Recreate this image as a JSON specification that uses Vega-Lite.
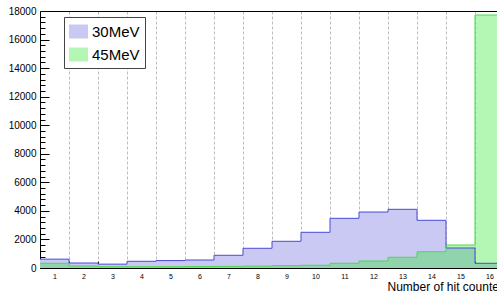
{
  "$schema": "https://vega.github.io/schema/vega-lite/v6.json",
  "width": 457,
  "height": 257,
  "autosize": {"type": "none"},
  "padding": {"left": 40, "top": 11, "right": 0, "bottom": 24},
  "background": "white",
  "config": {
    "view": {"stroke": null},
    "font": "Liberation Sans",
    "axis": {"labelFont": "Liberation Sans", "titleFont": "Liberation Sans"},
    "legend": {"labelFont": "Liberation Sans"}
  },
  "data": {
    "values": [
      {"bin_start": 0.5, "bin_end": 1.5, "energy": "30MeV", "count": 620},
      {"bin_start": 1.5, "bin_end": 2.5, "energy": "30MeV", "count": 350},
      {"bin_start": 2.5, "bin_end": 3.5, "energy": "30MeV", "count": 270},
      {"bin_start": 3.5, "bin_end": 4.5, "energy": "30MeV", "count": 470},
      {"bin_start": 4.5, "bin_end": 5.5, "energy": "30MeV", "count": 520},
      {"bin_start": 5.5, "bin_end": 6.5, "energy": "30MeV", "count": 560},
      {"bin_start": 6.5, "bin_end": 7.5, "energy": "30MeV", "count": 890},
      {"bin_start": 7.5, "bin_end": 8.5, "energy": "30MeV", "count": 1380},
      {"bin_start": 8.5, "bin_end": 9.5, "energy": "30MeV", "count": 1870},
      {"bin_start": 9.5, "bin_end": 10.5, "energy": "30MeV", "count": 2500},
      {"bin_start": 10.5, "bin_end": 11.5, "energy": "30MeV", "count": 3480},
      {"bin_start": 11.5, "bin_end": 12.5, "energy": "30MeV", "count": 3920},
      {"bin_start": 12.5, "bin_end": 13.5, "energy": "30MeV", "count": 4110},
      {"bin_start": 13.5, "bin_end": 14.5, "energy": "30MeV", "count": 3340},
      {"bin_start": 14.5, "bin_end": 15.5, "energy": "30MeV", "count": 1400},
      {"bin_start": 15.5, "bin_end": 16.5, "energy": "30MeV", "count": 330},
      {"bin_start": 0.5, "bin_end": 1.5, "energy": "45MeV", "count": 330},
      {"bin_start": 1.5, "bin_end": 2.5, "energy": "45MeV", "count": 140},
      {"bin_start": 2.5, "bin_end": 3.5, "energy": "45MeV", "count": 90},
      {"bin_start": 3.5, "bin_end": 4.5, "energy": "45MeV", "count": 90},
      {"bin_start": 4.5, "bin_end": 5.5, "energy": "45MeV", "count": 90},
      {"bin_start": 5.5, "bin_end": 6.5, "energy": "45MeV", "count": 100},
      {"bin_start": 6.5, "bin_end": 7.5, "energy": "45MeV", "count": 110},
      {"bin_start": 7.5, "bin_end": 8.5, "energy": "45MeV", "count": 130},
      {"bin_start": 8.5, "bin_end": 9.5, "energy": "45MeV", "count": 160},
      {"bin_start": 9.5, "bin_end": 10.5, "energy": "45MeV", "count": 190},
      {"bin_start": 10.5, "bin_end": 11.5, "energy": "45MeV", "count": 330},
      {"bin_start": 11.5, "bin_end": 12.5, "energy": "45MeV", "count": 490},
      {"bin_start": 12.5, "bin_end": 13.5, "energy": "45MeV", "count": 750},
      {"bin_start": 13.5, "bin_end": 14.5, "energy": "45MeV", "count": 1140},
      {"bin_start": 14.5, "bin_end": 15.5, "energy": "45MeV", "count": 1610},
      {"bin_start": 15.5, "bin_end": 16.5, "energy": "45MeV", "count": 17720}
    ]
  },
  "layer": [
    {
      "mark": {"type": "bar", "clip": true, "strokeWidth": 0},
      "encoding": {
        "x": {
          "field": "bin_start",
          "type": "quantitative",
          "scale": {"domain": [0.5, 16.2586], "nice": false, "zero": false},
          "axis": {
            "orient": "bottom",
            "values": [0.5, 1.5, 2.5, 3.5, 4.5, 5.5, 6.5, 7.5, 8.5, 9.5, 10.5, 11.5, 12.5, 13.5, 14.5, 15.5],
            "labelExpr": "format(datum.value + 0.5, 'd')",
            "labelOffset": 14.5,
            "labelFontSize": 7,
            "labelColor": "#000",
            "labelPadding": 11,
            "labelOverlap": false,
            "labelFlush": false,
            "labelBound": false,
            "tickSize": -7,
            "tickColor": "#222",
            "domainColor": "#000",
            "grid": true,
            "gridColor": "#bdbdbd",
            "gridDash": [3, 2],
            "gridWidth": 1,
            "title": "Number of hit counters",
            "titleFontSize": 12,
            "titleFontWeight": "normal",
            "titleColor": "#000",
            "titleAlign": "left",
            "titleX": 347,
            "titleY": 22,
            "titleBaseline": "alphabetic"
          }
        },
        "x2": {"field": "bin_end"},
        "y": {
          "field": "count",
          "type": "quantitative",
          "stack": null,
          "scale": {"domain": [0, 18000], "nice": false, "zero": true},
          "axis": {
            "orient": "left",
            "values": [0, 2000, 4000, 6000, 8000, 10000, 12000, 14000, 16000, 18000],
            "format": "d",
            "tickSize": -9,
            "tickColor": "#000",
            "domainColor": "#000",
            "labelFontSize": 10,
            "labelColor": "#000",
            "labelPadding": 13,
            "labelOverlap": false,
            "labelFlush": false,
            "labelBound": false,
            "grid": false,
            "title": null
          }
        },
        "y2": {"datum": 0},
        "fill": {
          "field": "energy",
          "type": "nominal",
          "scale": {"domain": ["30MeV", "45MeV"], "range": ["#c9c9f4", "rgba(40,230,40,0.35)"]},
          "legend": {
            "title": null,
            "orient": "none",
            "legendX": 24,
            "legendY": 6,
            "padding": 5,
            "strokeColor": "#444",
            "fillColor": "white",
            "symbolType": "M-1,-0.737H1V0.737H-1Z",
            "symbolSize": 361,
            "symbolStrokeWidth": 0,
            "labelFontSize": 15,
            "labelColor": "#000",
            "labelOffset": 4,
            "rowPadding": 5,
            "labelExpr": "datum.label + '\u00a0\u00a0\u00a0\u00a0'"
          }
        }
      }
    },
    {
      "mark": {"type": "rule", "clip": true, "strokeWidth": 1},
      "encoding": {
        "x": {
          "field": "bin_start",
          "type": "quantitative",
          "axis": {"orient": "top", "labels": false, "ticks": false, "grid": false, "title": null, "domain": true, "domainColor": "#000"}
        },
        "x2": {"field": "bin_end"},
        "y": {
          "field": "count",
          "type": "quantitative",
          "axis": {
            "orient": "left",
            "values": [400, 800, 1200, 1600, 2400, 2800, 3200, 3600, 4400, 4800, 5200, 5600, 6400, 6800, 7200, 7600, 8400, 8800, 9200, 9600, 10400, 10800, 11200, 11600, 12400, 12800, 13200, 13600, 14400, 14800, 15200, 15600, 16400, 16800, 17200, 17600],
            "labels": false,
            "domain": false,
            "grid": false,
            "tickSize": -5,
            "tickColor": "#000",
            "title": null
          }
        },
        "color": {
          "field": "energy",
          "type": "nominal",
          "scale": {"domain": ["30MeV", "45MeV"], "range": ["#4a4ad8", "#4cd94c"]},
          "legend": null
        }
      }
    },
    {
      "transform": [
        {"window": [{"op": "lead", "field": "count", "as": "next"}], "groupby": ["energy"], "sort": [{"field": "bin_start"}]},
        {"filter": "datum.next != null"}
      ],
      "mark": {"type": "rule", "clip": true, "strokeWidth": 1},
      "encoding": {
        "x": {"field": "bin_end", "type": "quantitative", "axis": null},
        "y": {"field": "count", "type": "quantitative", "axis": null},
        "y2": {"field": "next"},
        "color": {
          "field": "energy",
          "type": "nominal",
          "scale": {"domain": ["30MeV", "45MeV"], "range": ["#4a4ad8", "#4cd94c"]},
          "legend": null
        }
      }
    }
  ],
  "resolve": {"axis": {"x": "independent", "y": "independent"}}
}
